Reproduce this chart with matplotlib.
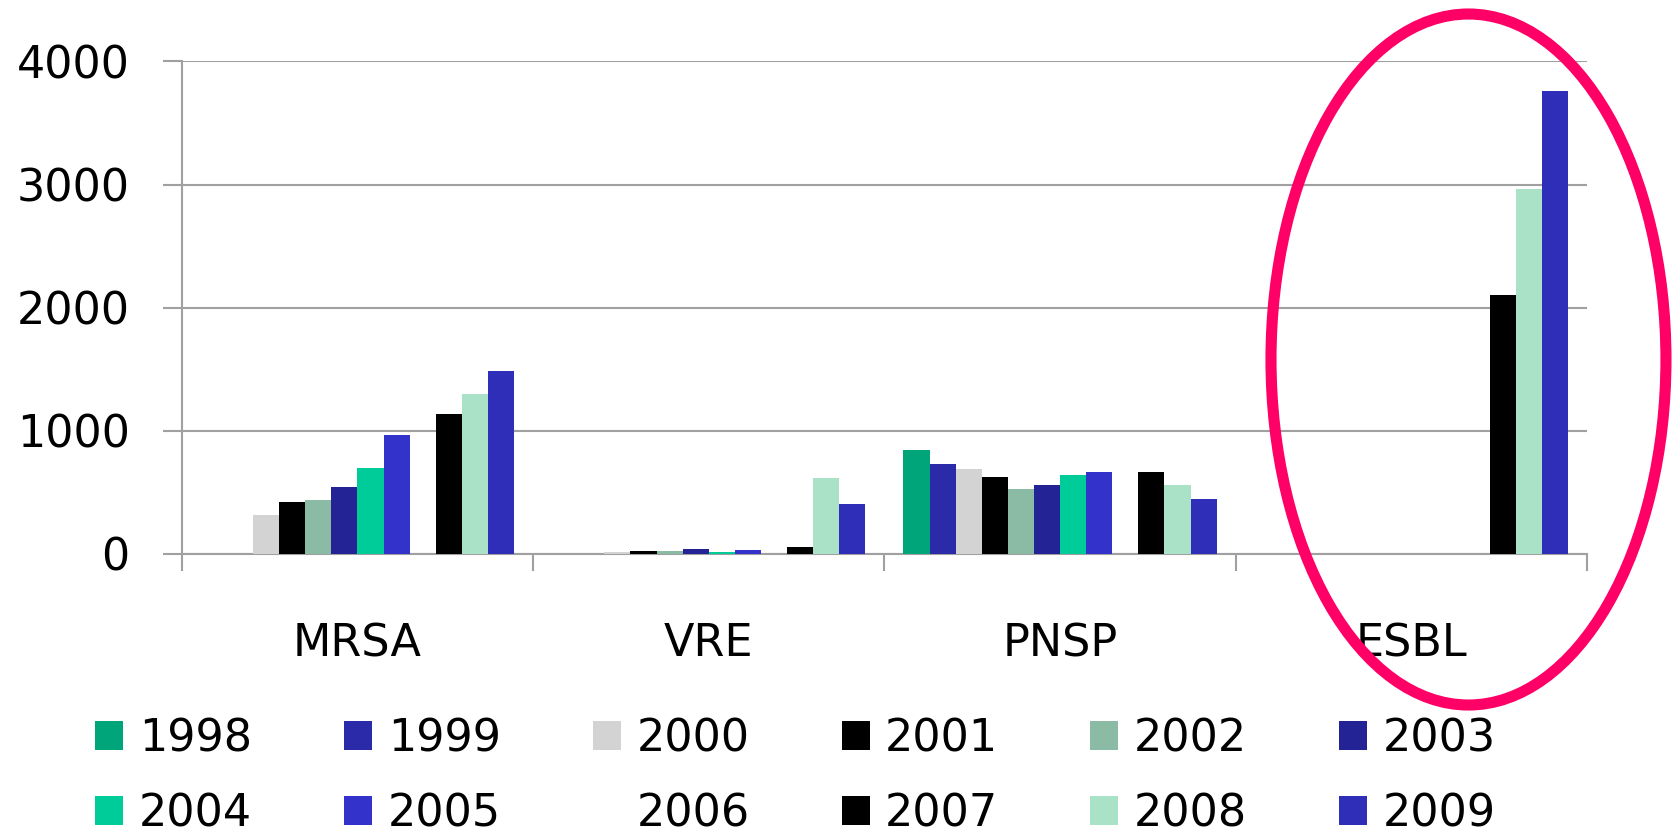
import numpy as np
import matplotlib
matplotlib.use("Agg")
import matplotlib.pyplot as plt
from matplotlib.patches import Ellipse, Patch

# data
categories = ["MRSA", "VRE", "PNSP", "ESBL"]
years = ["1998", "1999", "2000", "2001", "2002", "2003",
         "2004", "2005", "2006", "2007", "2008", "2009"]
v1998 = [0, 0, 843, 0]
v1999 = [0, 0, 729, 0]
v2000 = [314, 20, 688, 0]
v2001 = [425, 24, 623, 0]
v2002 = [436, 22, 531, 0]
v2003 = [542, 43, 561, 0]
v2004 = [696, 20, 645, 0]
v2005 = [964, 35, 665, 0]
v2006 = [0, 0, 0, 0]
v2007 = [1135, 57, 665, 2101]
v2008 = [1300, 617, 561, 2962]
v2009 = [1484, 409, 445, 3764]
values = [v1998, v1999, v2000, v2001, v2002, v2003,
          v2004, v2005, v2006, v2007, v2008, v2009]
colors = ["#00a57a", "#2b2baa", "#d3d3d3", "#000000", "#8cbba5", "#232396",
          "#00cc99", "#3333cc", "#ffffff", "#000000", "#aae2c8", "#2e2eb8"]

plt.rcParams['font.family'] = ['DejaVu Sans']
grid_c = "#a0a0a0"

fig = plt.figure(figsize=(16.75, 8.39), dpi=100)
ax = fig.add_axes([0.1085, 0.3397, 0.9475 - 0.1085, 0.9267 - 0.3397])

x = np.arange(len(categories))
w = 0.0743
for j, yr in enumerate(years):
    ax.bar(x + (j - 5.5) * w, values[j], width=w, color=colors[j],
           linewidth=0, label=yr, zorder=3)

ax.set_xlim(-0.5, 3.5)
ax.set_ylim(0, 4000)
ax.set_yticks([0, 1000, 2000, 3000, 4000])
ax.yaxis.grid(True, color=grid_c, linewidth=1.5, zorder=0)
ax.tick_params(axis='y', direction='out', length=13.5, width=1.5,
               color=grid_c, pad=24, labelsize=32)

# category separators as x ticks, names in the middle
ax.set_xticks([-0.5, 0.5, 1.5, 2.5, 3.5])
ax.set_xticklabels([])
ax.set_xticks(x, minor=True)
ax.set_xticklabels(categories, minor=True, fontsize=32)
ax.tick_params(axis='x', which='major', direction='out', length=12,
               width=1.5, color=grid_c)
ax.tick_params(axis='x', which='minor', length=0, pad=49)

for s in ['top', 'right']:
    ax.spines[s].set_visible(False)
for s in ['left', 'bottom']:
    ax.spines[s].set_color(grid_c)
    ax.spines[s].set_linewidth(1.5)

# legend fills by column, so reorder to read across rows
handles = [Patch(facecolor=c, edgecolor='none') for c in colors]
order = [r * 6 + c for c in range(6) for r in range(2)]
fig.legend([handles[i] for i in order], [years[i] for i in order],
           loc='upper left', bbox_to_anchor=(0.057, 0.145),
           ncol=6, frameon=False, fontsize=32, handlelength=0.63,
           handleheight=0.63, handletextpad=0.35, columnspacing=2.07,
           labelspacing=0.72, borderpad=0, borderaxespad=0)

# the highlight ring around ESBL
ring = Ellipse((0.8767, 0.5715), 0.2358, 0.8236, transform=fig.transFigure,
               fill=False, edgecolor="#ff0066", linewidth=8, zorder=10)
fig.add_artist(ring)

fig.savefig("out.png", dpi=100)
